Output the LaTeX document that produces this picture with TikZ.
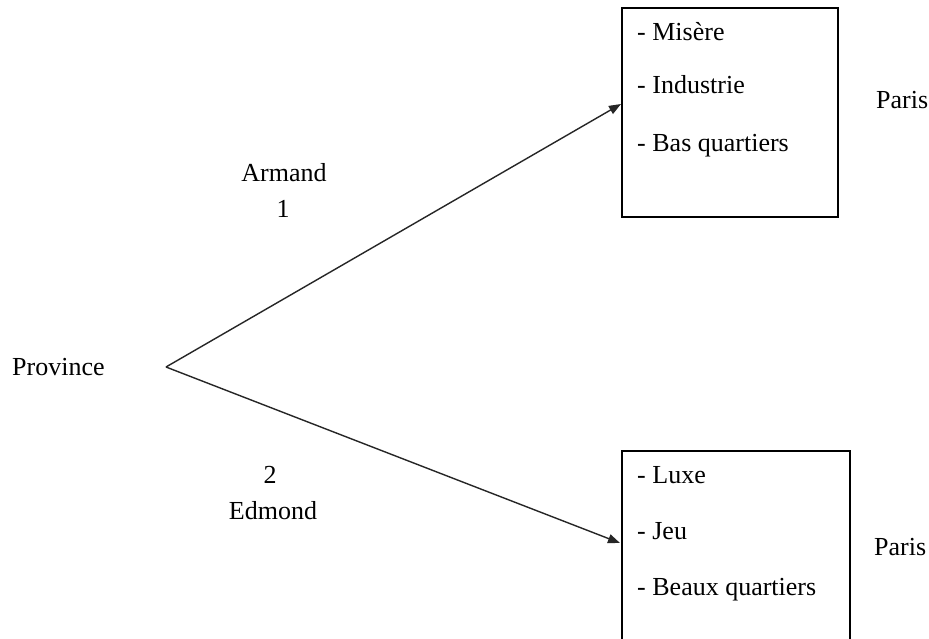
\documentclass[tikz,border=0pt]{standalone}
\usepackage{fontspec}
\setmainfont{Liberation Serif}
\usetikzlibrary{arrows.meta}
\begin{document}
\begin{tikzpicture}[x=1pt,y=-1pt,
  lbl/.style={inner sep=0pt,font=\fontsize{26}{30}\selectfont},
  item/.style={lbl,anchor=base west},
  ctr/.style={lbl,anchor=base},
  box/.style={draw=black,line width=1.6pt,inner sep=0pt,anchor=north west},
  conn/.style={draw=black!85,line width=1.4pt,-{Triangle[length=12pt,width=9pt]}}]
\clip (0,0) rectangle (929,639);
\fill[white] (0,0) rectangle (929,639);
% boxes
\node[box,minimum width=216pt,minimum height=209pt] (box1) at (621,7) {};
\node[box,minimum width=228pt,minimum height=220pt] (box2) at (621,450) {};
% labels
\node[item] (prov) at (12,375) {Province};
\node[ctr] (armand) at (284,182) {Armand};
\node[ctr] (one) at (283,218) {1};
\node[ctr] (two) at (270,483) {2};
\node[ctr] (edmond) at (273,519) {Edmond};
\node[item] (paris1) at (876,109) {Paris};
\node[item] (paris2) at (874,555) {Paris};
% box items
\node[item] (m) at (637,41) {- Misère};
\node[item] (i) at (637,94) {- Industrie};
\node[item] (b) at (637,152) {- Bas quartiers};
\node[item] (l) at (637,483) {- Luxe};
\node[item] (j) at (637,539) {- Jeu};
\node[item] (bq) at (637,595) {- Beaux quartiers};
% connectors
\coordinate (v) at (166,367);
\coordinate (t1) at (621,104);
\coordinate (t2) at (620,543);
\draw[conn] (v) -- (t1);
\draw[conn] (v) -- (t2);
\end{tikzpicture}
\end{document}
